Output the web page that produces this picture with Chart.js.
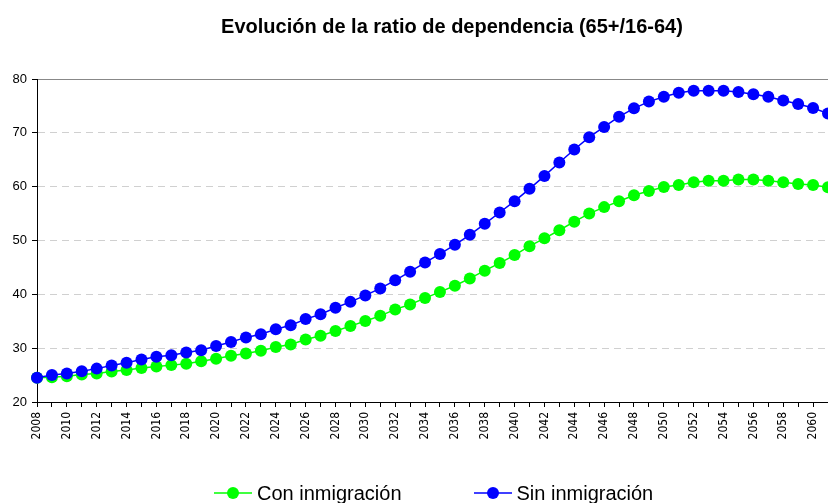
<!DOCTYPE html>
<html>
<head>
<meta charset="utf-8">
<script src="https://cdn.jsdelivr.net/npm/chart.js@4/dist/chart.umd.min.js"></script>
<style>
  html, body { margin: 0; padding: 0; background: #fff; overflow: hidden; }
  #wrap { position: relative; width: 828px; height: 503px; }
  #chart { position: absolute; left: 0; top: 0; }
  #title {
    position: absolute; left: 0; top: 16px; width: 904px; text-align: center;
    font: bold 20px "Liberation Sans", Arial, sans-serif; line-height: 20px;
    color: #000; white-space: nowrap;
  }
  #legend {
    position: absolute; left: 214px; top: 483px; display: flex;
    font: 20px "Liberation Sans", Arial, sans-serif; line-height: 20px;
    color: #000; white-space: nowrap;
  }
  .item { display: flex; align-items: center; margin-right: 72px; }
  .item svg { margin-right: 5px; }
</style>
</head>
<body>
<div id="wrap">
  <canvas id="chart" width="828" height="503"></canvas>
  <div id="title">Evolución de la ratio de dependencia (65+/16-64)</div>
  <div id="legend"></div>
</div>
<script>
const years = [
  2008, 2009, 2010, 2011, 2012, 2013, 2014, 2015, 2016, 2017,
  2018, 2019, 2020, 2021, 2022, 2023, 2024, 2025, 2026, 2027,
  2028, 2029, 2030, 2031, 2032, 2033, 2034, 2035, 2036, 2037,
  2038, 2039, 2040, 2041, 2042, 2043, 2044, 2045, 2046, 2047,
  2048, 2049, 2050, 2051, 2052, 2053, 2054, 2055, 2056, 2057,
  2058, 2059, 2060, 2061,
];

// ratio 65+/16-64 con inmigración (verde)
const conInmigracion = [
  24.5, 24.6, 24.8, 25.1, 25.3, 25.65, 25.95, 26.3, 26.6, 26.85,
  27.1, 27.55, 28.05, 28.6, 29.0, 29.5, 30.2, 30.7, 31.6, 32.3,
  33.2, 34.1, 35.05, 36.0, 37.2, 38.1, 39.3, 40.45, 41.6, 42.95,
  44.4, 45.8, 47.3, 48.95, 50.4, 51.9, 53.5, 55.0, 56.2, 57.3,
  58.4, 59.2, 59.95, 60.3, 60.8, 61.1, 61.1, 61.35, 61.35, 61.1,
  60.8, 60.5, 60.3, 59.9,
];

// sin inmigración (azul)
const sinInmigracion = [
  24.5, 25.0, 25.3, 25.7, 26.2, 26.8, 27.3, 27.9, 28.4, 28.7,
  29.2, 29.6, 30.4, 31.15, 32.0, 32.6, 33.5, 34.25, 35.4, 36.3,
  37.5, 38.6, 39.8, 41.1, 42.6, 44.2, 45.9, 47.5, 49.2, 51.05,
  53.1, 55.2, 57.3, 59.6, 62.0, 64.5, 66.9, 69.2, 71.1, 73.0,
  74.55, 75.8, 76.7, 77.45, 77.8, 77.8, 77.8, 77.6, 77.15, 76.7,
  76.0, 75.35, 74.6, 73.6,
];

const seriesNames = ["Con inmigración", "Sin inmigración"];
const seriesColors = ["#00ff00", "#0000ff"];
const yTicks = [20, 30, 40, 50, 60, 70, 80];

const font = '"Liberation Sans", Arial, sans-serif';

// legend
document.getElementById("legend").innerHTML = seriesNames
  .map(
    (name, i) =>
      `<div class="item"><svg width="38" height="14"><line x1="0" y1="7" x2="38" y2="7" stroke="${seriesColors[i]}" stroke-width="1.5"/><circle cx="19" cy="7" r="6" fill="${seriesColors[i]}"/></svg><span>${name}</span></div>`,
  )
  .join("");

new Chart(document.getElementById("chart"), {
  type: "line",
  data: {
    labels: years,
    datasets: [
      {
        label: seriesNames[0],
        data: conInmigracion,
        borderColor: seriesColors[0],
        backgroundColor: seriesColors[0],
        pointBackgroundColor: seriesColors[0],
        order: 1,
      },
      {
        label: seriesNames[1],
        data: sinInmigracion,
        borderColor: seriesColors[1],
        backgroundColor: seriesColors[1],
        pointBackgroundColor: seriesColors[1],
        order: 0,
      },
    ],
  },
  options: {
    responsive: false,
    animation: false,
    layout: { autoPadding: false, padding: { top: 79, right: 0, bottom: 0, left: 0 } },
    plugins: {
      legend: { display: false },
      title: { display: false },
      tooltip: { enabled: false },
    },
    elements: {
      line: { borderWidth: 1.5, tension: 0, fill: false },
      point: { radius: 6, hoverRadius: 6, borderWidth: 0 },
    },
    datasets: { line: { clip: false } },
    scales: {
      x: {
        type: "category",
        offset: false,
        grid: {
          drawOnChartArea: false,
          drawTicks: true,
          tickLength: 5,
          tickColor: "#000",
        },
        border: { color: "#000", width: 1 },
        ticks: {
          autoSkip: false,
          maxRotation: 90,
          minRotation: 90,
          padding: 5,
          color: "#000",
          font: { family: '"Liberation Sans Narrow", "DejaVu Sans Condensed", Arial, sans-serif', size: 12 },
          callback: function (v) {
            const y = this.getLabelForValue(v);
            return y % 2 === 0 ? String(y) : "";
          },
        },
        afterFit: (s) => {
          s.height = 101;
          s.paddingLeft = 0;
          s.paddingRight = 0;
        },
      },
      y: {
        min: yTicks[0],
        max: yTicks[yTicks.length - 1],
        afterBuildTicks: (s) => {
          s.ticks = yTicks.map((v) => ({ value: v }));
        },
        ticks: { padding: 5, color: "#000", font: { family: font, size: 13 } },
        grid: {
          color: (c) =>
            c.tick.value === 80 ? "#888" : c.tick.value === 20 ? "rgba(0,0,0,0)" : "#d0d0d0",
          tickColor: "#000",
          tickLength: 5,
        },
        border: {
          color: "#000",
          dash: (c) => (c.tick && c.tick.value !== 80 ? [7, 5] : []),
        },
        afterFit: (s) => {
          s.width = 37;
        },
      },
    },
  },
});
</script>
</body>
</html>
